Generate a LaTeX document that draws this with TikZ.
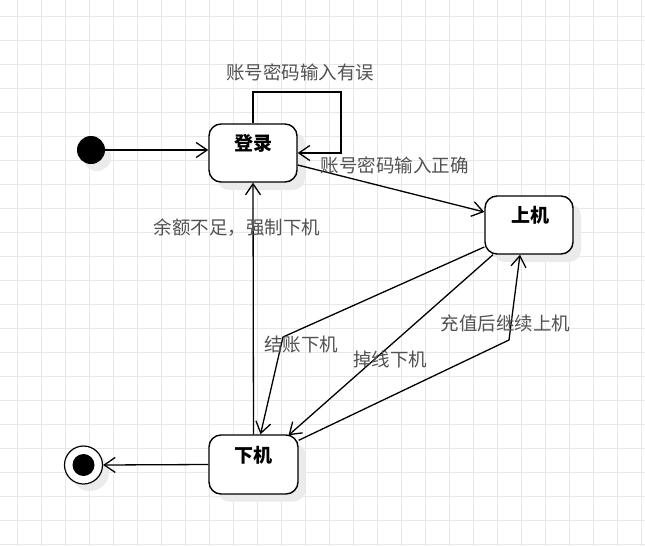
\documentclass[tikz,border=0pt]{standalone}
\usepackage{fontspec}
\newfontfamily\cjk{Noto Sans CJK SC}
\usetikzlibrary{arrows.meta,calc}
\begin{document}
\begin{tikzpicture}[x=1pt,y=-1pt,
  gridline/.style={draw=black!9,line width=0.8pt},
  state/.style={draw=black,line width=1.4pt,rounded corners=12pt,fill=white,minimum width=88pt,minimum height=58pt,inner sep=0pt},
  shadowbox/.style={fill=black!8,rounded corners=12pt,minimum width=88pt,minimum height=58pt,inner sep=0pt},
  title/.style={font=\cjk\bfseries\fontsize{19}{19}\selectfont,text=black,inner sep=0pt},
  lbl/.style={font=\cjk\fontsize{18.5}{19}\selectfont,text=black!68,inner sep=0pt},
  conn/.style={line width=1.3pt,-{Straight Barb[length=11pt,width=15pt]}},
  plain/.style={line width=1.3pt}
]
\useasboundingbox (0,0) rectangle (645,546);
\fill[white] (0,0) rectangle (645,546);
\foreach \i in {0,...,26} \draw[gridline] (17+24*\i,0) -- (17+24*\i,546);
\foreach \j in {0,...,22} \draw[gridline] (0,16+24*\j) -- (645,16+24*\j);

% shadows
\node[shadowbox] (loginS) at (261,161) {};
\node[shadowbox] (upS) at (537,233) {};
\node[shadowbox] (downS) at (261.5,472.5) {};
\node[circle,fill=black!8,minimum size=28pt,inner sep=0pt] (initS) at (97,157) {};
\node[circle,fill=black!8,minimum size=38pt,inner sep=0pt] (finalS) at (90,472) {};

% states
\node[state] (login) at (253,153) {};
\node[state] (up) at (529,225) {};
\node[state,minimum width=89pt,minimum height=59pt] (down) at (253.5,464.5) {};
\node[title] (loginT) at (253,143) {登录};
\node[title] (upT) at (530,215) {上机};
\node[title] (downT) at (253,455) {下机};

\node[circle,fill=black,minimum size=28pt,inner sep=0pt] (init) at (91,150) {};
\node[circle,draw=black,line width=1.2pt,fill=white,minimum size=38pt,inner sep=0pt] (final) at (83.5,465) {};
\node[circle,fill=black,minimum size=22pt,inner sep=0pt] (finalIn) at (83.5,465) {};

% bend points
\coordinate (loopTR) at (341,92);
\coordinate (bendA) at (283,337);
\coordinate (bendB) at (509,340);

% connectors
\draw[conn] (init) -- (login.west |- init);
\draw[conn] (login.north) |- (loopTR) |- (login.east);
\draw[conn] ($(login.east)+(0,12)$) -- ($(up.west)+(0,-13)$);
\draw[conn] (down.north) -- (login.south);
\draw[conn] ($(up.west)+(0,22)$) -- (bendA) -- ($(down.north)+(7,0)$);
\draw[conn] ($(up.south)+(-36,0)$) -- ($(down.north)+(35,1)$);
\draw[conn] ($(down.north east)+(0,6)$) -- (bendB) -- ($(up.south)+(-9,0)$);
\draw[conn] (down.west) -- (final.east);

% labels
\node[lbl] (l1) at (300,72) {账号密码输入有误};
\node[lbl] (l2) at (394.5,165) {账号密码输入正确};
\node[lbl] (l3) at (237,228) {余额不足，强制下机};
\node[lbl] (l4) at (301,345) {结账下机};
\node[lbl] (l5) at (390,359) {掉线下机};
\node[lbl] (l6) at (505.5,323) {充值后继续上机};
\end{tikzpicture}
\end{document}
